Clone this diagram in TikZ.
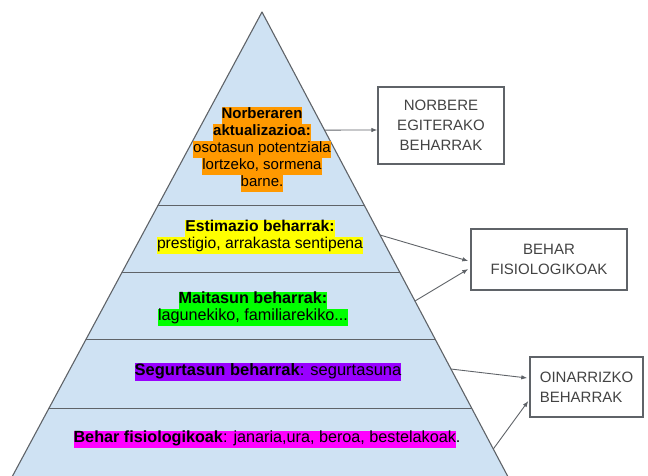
\documentclass[tikz,border=0pt]{standalone}
\usepackage{fontspec}
\setmainfont{Liberation Sans}
\usetikzlibrary{arrows.meta,calc}
\definecolor{PyrFill}{HTML}{CFE2F3}
\definecolor{PyrLine}{HTML}{5F6368}
\definecolor{HlOrange}{HTML}{FF9900}
\definecolor{HlYellow}{HTML}{FFFF00}
\definecolor{HlGreen}{HTML}{00FF00}
\definecolor{HlPurple}{HTML}{9900FF}
\definecolor{HlMagenta}{HTML}{FF00FF}
\definecolor{BoxInk}{HTML}{434343}
\tikzset{
  pyr text/.style={font=\fontsize{#1}{17}\selectfont, align=center, inner sep=0pt},
  pyr text/.default=15,
  pyr edge/.style={draw=PyrLine, line width=1.1pt, line join=round},
  band line/.style={draw=PyrLine, line width=1pt},
  need box/.style={draw=PyrLine, line width=1.4pt, fill=white, text=BoxInk,
    font=\fontsize{15}{20}\selectfont, inner sep=0pt},
  need arrow/.style={draw=PyrLine, line width=.9pt, -{Latex[length=6pt,width=4.5pt]}},
}
\newcommand{\hl}[2]{{\setlength{\fboxsep}{0pt}\colorbox{#1}{\strut #2}}}

\begin{document}
\begin{tikzpicture}[x=1pt,y=-1pt]
  \useasboundingbox (0,0) rectangle (648,475);
  \coordinate (apex) at (262,12);
  \coordinate (bl) at (5,490);
  \coordinate (br) at (515,490);

  % pyramid with its bands
  \begin{scope}
    \clip (0,0) rectangle (648,475);
    \fill[PyrFill] (apex) -- (bl) -- (br) -- cycle;
    \begin{scope}
      \clip (apex) -- (bl) -- (br) -- cycle;
      \foreach \y in {205,272,339,408}
        \draw[band line] (0,\y) -- (648,\y);
    \end{scope}
    \draw[pyr edge] (apex) -- (bl) -- (br) -- cycle;
  \end{scope}

  % levels
  \node[pyr text] (selfact) at (262,149)
    {\hl{HlOrange}{\textbf{Norberaren}}\\
     \hl{HlOrange}{\textbf{aktualizazioa:}}\\
     \hl{HlOrange}{osotasun potentziala}\\
     \hl{HlOrange}{lortzeko, sormena}\\
     \hl{HlOrange}{barne.}};
  \node[pyr text=15.7] (esteem) at (260,236.5)
    {\hl{HlYellow}{\textbf{Estimazio beharrak:}}\\
     \hl{HlYellow}{prestigio, arrakasta sentipena}};
  \node[pyr text=16.2] (love) at (253,308.5)
    {\hl{HlGreen}{\textbf{Maitasun beharrak:}}\\
     \hl{HlGreen}{lagunekiko, familiarekiko...}};
  \node[pyr text=16.5] (safety) at (268,372)
    {\hl{HlPurple}{\textbf{Segurtasun beharrak}: segurtasuna}};
  \node[pyr text=16.2] (physio) at (267,439)
    {\hl{HlMagenta}{\textbf{Behar fisiologikoak}: janaria,ura, beroa, bestelakoak}.};

  % side boxes
  \node[need box, align=center, minimum width=126pt, minimum height=77pt] (selfbox)
    at (441,125.5) {NORBERE\\EGITERAKO\\BEHARRAK};
  \node[need box, align=center, minimum width=156pt, minimum height=61pt] (physbox)
    at (549,259.5) {BEHAR\\FISIOLOGIKOAK};
  \node[need box, align=left, minimum width=113pt, minimum height=60pt] (basebox)
    at (586.5,387) {OINARRIZKO\\BEHARRAK};

  % arrows from the pyramid edge
  \coordinate (e1) at ($(apex)!0.247!(br)$);
  \coordinate (e2) at ($(apex)!0.4665!(br)$);
  \coordinate (e3) at ($(apex)!0.6046!(br)$);
  \coordinate (e4) at ($(apex)!0.7469!(br)$);
  \coordinate (e5) at ($(apex)!0.9142!(br)$);
  \draw[need arrow] (e1) -- ([yshift=-4.5pt]selfbox.west);
  \draw[need arrow] (e2) -- ([xshift=-2pt,yshift=-1.5pt]physbox.west);
  \draw[need arrow] (e3) -- ([xshift=-2pt,yshift=-9.5pt]physbox.west);
  \draw[need arrow] (e4) -- ([xshift=-2pt,yshift=9pt]basebox.west);
  \draw[need arrow] (e5) -- ([xshift=-1pt,yshift=-14pt]basebox.west);
\end{tikzpicture}
\end{document}
